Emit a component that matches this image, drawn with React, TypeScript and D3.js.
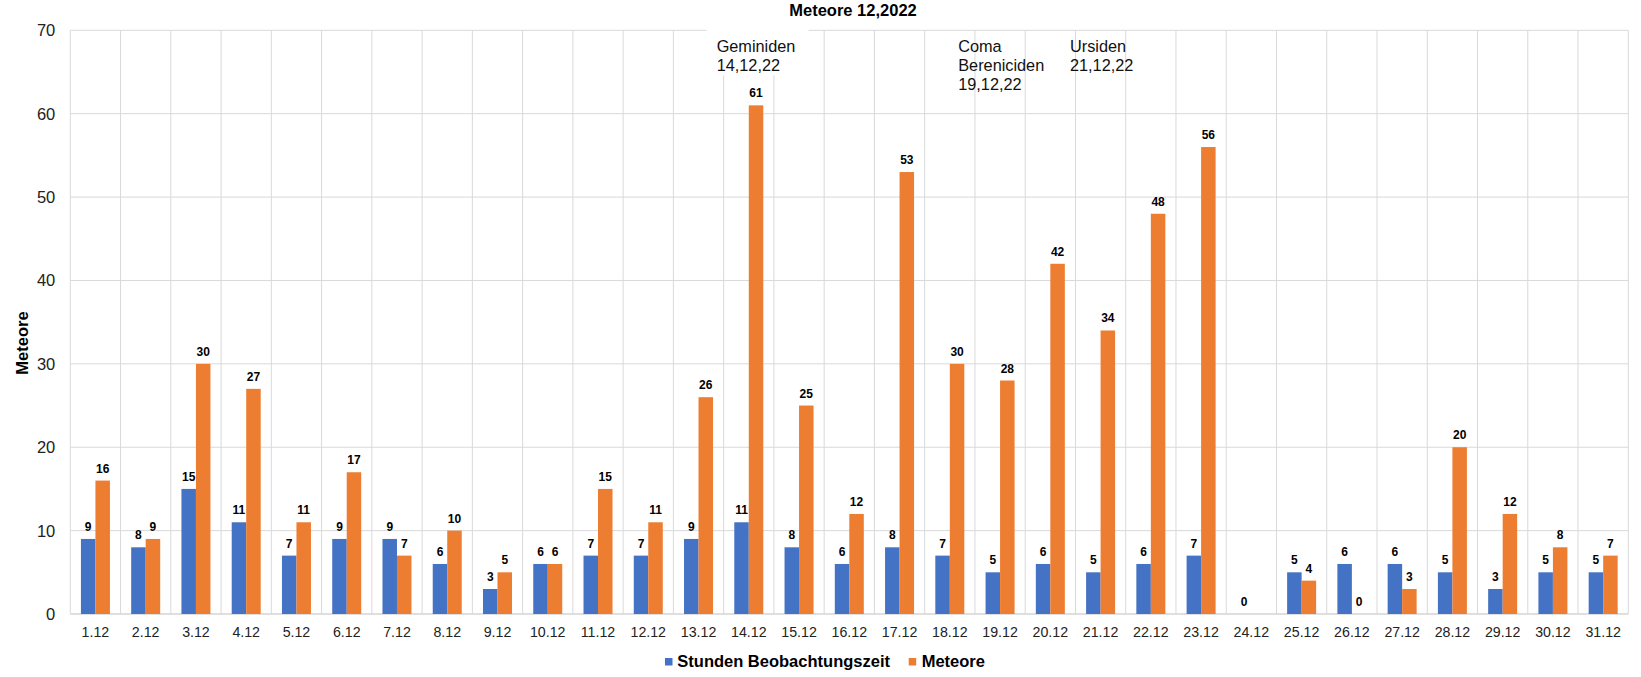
import React from "react";
import * as d3 from "d3";

const categories = ["1.12","2.12","3.12","4.12","5.12","6.12","7.12","8.12","9.12","10.12","11.12","12.12","13.12","14.12","15.12","16.12","17.12","18.12","19.12","20.12","21.12","22.12","23.12","24.12","25.12","26.12","27.12","28.12","29.12","30.12","31.12"];
const stunden: number[] = [9,8,15,11,7,9,9,6,3,6,7,7,9,11,8,6,8,7,5,6,5,6,7,0,5,6,6,5,3,5,5];
const meteore: (number | null)[] = [16,9,30,27,11,17,7,10,5,6,15,11,26,61,25,12,53,30,28,42,34,48,56,null,4,0,3,20,12,8,7];
const yTicks = [0,10,20,30,40,50,60,70];
const seriesNames = ["Stunden Beobachtungszeit", "Meteore"];
const seriesColors = ["#4472C4", "#ED7D31"];
const annotations = [
  { cat: "14.12", lines: ["Geminiden", "14,12,22"], box: true },
  { cat: "19.12", lines: ["Coma", "Bereniciden", "19,12,22"], box: false },
  { cat: "21.12", lines: ["Ursiden", "21,12,22"], box: false },
];
const title = "Meteore 12,2022";
const yTitle = "Meteore";

const W = 1641, H = 677;
const left = 70.3, right = 1628.3, top = 30.3, bottom = 614;
const FONT = "Arial, 'Liberation Sans', sans-serif";

export default function App() {
  const x0 = d3.scaleBand<string>().domain(categories).range([left, right]).padding(0);
  const bw = x0.bandwidth();
  const x1 = d3.scaleBand<string>().domain(seriesNames).range([bw * 0.2115, bw * 0.7885]).padding(0);
  const y = d3.scaleLinear().domain([0, 70]).range([bottom, top]);
  const series = [stunden, meteore];

  const annOffsets: Record<string, number> = { "14.12": -7, "19.12": -16.7, "21.12": -5.5 };

  return (
    <svg width={W} height={H} style={{ position: "absolute", left: 0, top: 0, background: "#fff" }} fontFamily={FONT}>
      <rect x={0} y={0} width={W} height={H} fill="#fff" />
      {yTicks.map((t) => (
        <line key={"h" + t} x1={left} x2={right} y1={y(t)} y2={y(t)} stroke={t === 0 ? "#bfbfbf" : "#d9d9d9"} strokeWidth={1} />
      ))}
      {categories.map((c) => (
        <line key={"v" + c} x1={x0(c)!} x2={x0(c)!} y1={top} y2={bottom} stroke="#d9d9d9" strokeWidth={1} />
      ))}
      <line x1={right} x2={right} y1={top} y2={bottom} stroke="#d9d9d9" strokeWidth={1} />
      {annotations.filter((a) => a.box).map((a) => {
        const bx = x0(a.cat)! - 17;
        return <rect key={"b" + a.cat} x={bx} y={top - 3} width={102} height={48} fill="#fff" />;
      })}
      {series.map((vals, si) =>
        vals.map((v, i) =>
          v === null ? null : (
            <rect
              key={"r" + si + "-" + i}
              x={x0(categories[i])! + x1(seriesNames[si])!}
              y={y(v)}
              width={x1.bandwidth()}
              height={bottom - y(v)}
              fill={seriesColors[si]}
            />
          )
        )
      )}
      {series.map((vals, si) =>
        vals.map((v, i) =>
          v === null ? null : (
            <text
              key={"l" + si + "-" + i}
              x={x0(categories[i])! + x1(seriesNames[si])! + x1.bandwidth() / 2}
              y={y(v) - 8}
              textAnchor="middle"
              fontSize={12}
              fontWeight="bold"
              fill="#000"
            >
              {v}
            </text>
          )
        )
      )}
      {yTicks.map((t) => (
        <text key={"yt" + t} x={left - 15} y={y(t) + 6} textAnchor="end" fontSize={16.5} fill="#222">
          {t}
        </text>
      ))}
      {categories.map((c) => (
        <text key={"xt" + c} x={x0(c)! + bw / 2} y={bottom + 23} textAnchor="middle" fontSize={14.2} fill="#222">
          {c}
        </text>
      ))}
      <text x={853} y={16} textAnchor="middle" fontSize={16.5} fontWeight="bold" fill="#000">
        {title}
      </text>
      <text transform={`translate(27.5,343) rotate(-90)`} textAnchor="middle" fontSize={16.5} fontWeight="bold" fill="#000">
        {yTitle}
      </text>
      {annotations.map((a) => (
        <text key={"a" + a.cat} fontSize={16.3} fill="#111">
          {a.lines.map((ln, li) => (
            <tspan key={li} x={x0(a.cat)! + annOffsets[a.cat]} y={51.7 + li * 19.2}>
              {ln}
            </tspan>
          ))}
        </text>
      ))}
      <g>
        <rect x={665} y={658} width={7.5} height={7.5} fill={seriesColors[0]} />
        <text x={677.3} y={666.7} fontSize={16.5} fontWeight="bold" fill="#000">{seriesNames[0]}</text>
        <rect x={908.7} y={658} width={7.5} height={7.5} fill={seriesColors[1]} />
        <text x={921.7} y={666.7} fontSize={16.5} fontWeight="bold" fill="#000">{seriesNames[1]}</text>
      </g>
    </svg>
  );
}
